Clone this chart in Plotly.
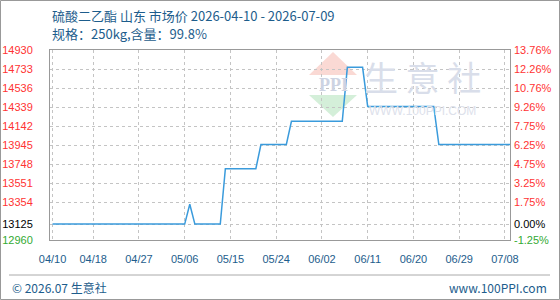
import plotly.graph_objects as go

# ---- data ----
dates = ["2026-04-10", "2026-05-06", "2026-05-07", "2026-05-08", "2026-05-13", "2026-05-14",
         "2026-05-20", "2026-05-21", "2026-05-26", "2026-05-27", "2026-06-06", "2026-06-07",
         "2026-06-10", "2026-06-11", "2026-06-24", "2026-06-25", "2026-07-09"]
prices = [13125, 13125, 13330, 13125, 13125, 13700,
          13700, 13950, 13950, 14190, 14190, 14750,
          14750, 14345, 14345, 13950, 13950]

y_ticks = [12960, 13125, 13354, 13551, 13748, 13945, 14142, 14339, 14536, 14733, 14930]
pct_labels = ["-1.25%", "0.00%", "1.75%", "3.25%", "4.75%", "6.25%", "7.75%", "9.26%",
              "10.76%", "12.26%", "13.76%"]
x_ticks = ["2026-04-10", "2026-04-18", "2026-04-27", "2026-05-06", "2026-05-15", "2026-05-24",
           "2026-06-02", "2026-06-11", "2026-06-20", "2026-06-29", "2026-07-08"]
x_labels = ["04/10", "04/18", "04/27", "05/06", "05/15", "05/24",
            "06/02", "06/11", "06/20", "06/29", "07/08"]

title1 = "硫酸二乙酯 山东 市场价 2026-04-10 - 2026-07-09"
title2 = "规格：250kg,含量：99.8%"
footer_left = "© 2026.07 生意社"
footer_right = "www.100PPI.com"

# ---- layout geometry ----
W, H = 560, 300
PL, PR, PT, PB = 50, 510, 50, 240


def fx(px):
    return (px - PL) / (PR - PL)


def fy(py):
    return (PB - py) / (PB - PT)


RED = "#ff3333"
GREEN = "#33aa33"
BLUE_TXT = "#1d5d8c"
GRID = "#c4c4c4"


def colored(labels):
    out = []
    for i, t in enumerate(labels):
        if i == 0:
            c = GREEN
        elif i == 1:
            c = "#000000"
        else:
            c = RED
        out.append(f"<span style='color:{c}'>{t}</span>")
    return out


def note(fig, px, py, text, font, xanchor="center"):
    fig.add_annotation(x=fx(px), y=fy(py), xref="paper", yref="paper",
                       xanchor=xanchor, yanchor="middle", text=text,
                       showarrow=False, font=font)


fig = go.Figure()

# watermark logo triangles
fig.add_shape(type="path", xref="paper", yref="paper", layer="below",
              path=f"M {fx(333)} {fy(52)} L {fx(357)} {fy(75)} L {fx(309)} {fy(75)} Z",
              fillcolor="rgba(245,170,160,0.45)", line=dict(width=0))
fig.add_shape(type="path", xref="paper", yref="paper", layer="below",
              path=f"M {fx(309)} {fy(95)} L {fx(357)} {fy(95)} L {fx(333)} {fy(117)} Z",
              fillcolor="rgba(160,220,170,0.45)", line=dict(width=0))

fig.add_trace(go.Scatter(x=dates, y=prices, mode="lines",
                         line=dict(color="#3a9bdc", width=1.5),
                         showlegend=False, hoverinfo="skip"))
fig.add_trace(go.Scatter(x=dates, y=prices, mode="lines", yaxis="y2",
                         line=dict(color="rgba(0,0,0,0)", width=0),
                         showlegend=False, hoverinfo="skip"))

yr = [y_ticks[0], y_ticks[-1]]
fig.update_layout(
    width=W, height=H, autosize=False,
    margin=dict(l=PL, r=W - PR, t=PT, b=H - PB, autoexpand=False),
    paper_bgcolor="white", plot_bgcolor="rgba(0,0,0,0)",
    font=dict(family="Liberation Sans, Arial", size=11),
    xaxis=dict(type="date", range=["2026-04-09 12:00", "2026-07-09 00:00"],
               tickvals=x_ticks, ticktext=x_labels, automargin=False,
               tickfont=dict(color=BLUE_TXT, size=11),
               showgrid=True, gridcolor=GRID, griddash="3px,3px", gridwidth=1,
               showline=True, linecolor="#999999", linewidth=1, mirror=True,
               ticks="", ticklabelstandoff=9, zeroline=False, layer="below traces"),
    yaxis=dict(range=yr, tickvals=y_ticks, ticktext=colored([str(v) for v in y_ticks]),
               tickfont=dict(size=11), automargin=False,
               showgrid=True, gridcolor=GRID, griddash="3px,3px", gridwidth=1,
               showline=True, linecolor="#999999", linewidth=1, mirror=True,
               ticks="", ticklabelstandoff=14, zeroline=False, layer="below traces"),
    yaxis2=dict(range=yr, overlaying="y", side="right", tickvals=y_ticks, automargin=False,
                ticktext=colored(pct_labels), tickfont=dict(size=11),
                showgrid=False, showline=False, ticks="", ticklabelstandoff=3, zeroline=False),
)

# watermark texts
note(fig, 333, 85, "<b>PPI</b>", dict(family="Liberation Serif", size=18, color="#cdd3e2"))
note(fig, 422, 76, "生 意 社", dict(family="Noto Sans CJK SC", size=34, color="#d9deea"))
note(fig, 422, 111, "WWW.100PPI.COM", dict(family="Liberation Sans", size=12, color="#dde1eb"))

# titles
title_font = dict(family="Noto Sans CJK SC", size=13, color=BLUE_TXT)
note(fig, 50, 15, title1, title_font, xanchor="left")
note(fig, 50, 34, title2, title_font, xanchor="left")

# footer
fig.add_shape(type="line", xref="paper", yref="paper",
              x0=fx(9), x1=fx(550), y0=fy(275), y1=fy(275), line=dict(color="#aaaaaa", width=1))
foot_font = dict(family="Noto Sans CJK SC", size=12, color=BLUE_TXT)
note(fig, 10, 287, footer_left, foot_font, xanchor="left")
note(fig, 549, 287, footer_right, foot_font, xanchor="right")

# outer border
fig.add_shape(type="rect", xref="paper", yref="paper",
              x0=fx(0.5), x1=fx(559.5), y0=fy(0.5), y1=fy(299.5),
              line=dict(color="#999999", width=1), fillcolor="rgba(0,0,0,0)")

fig.write_html("out.html")
